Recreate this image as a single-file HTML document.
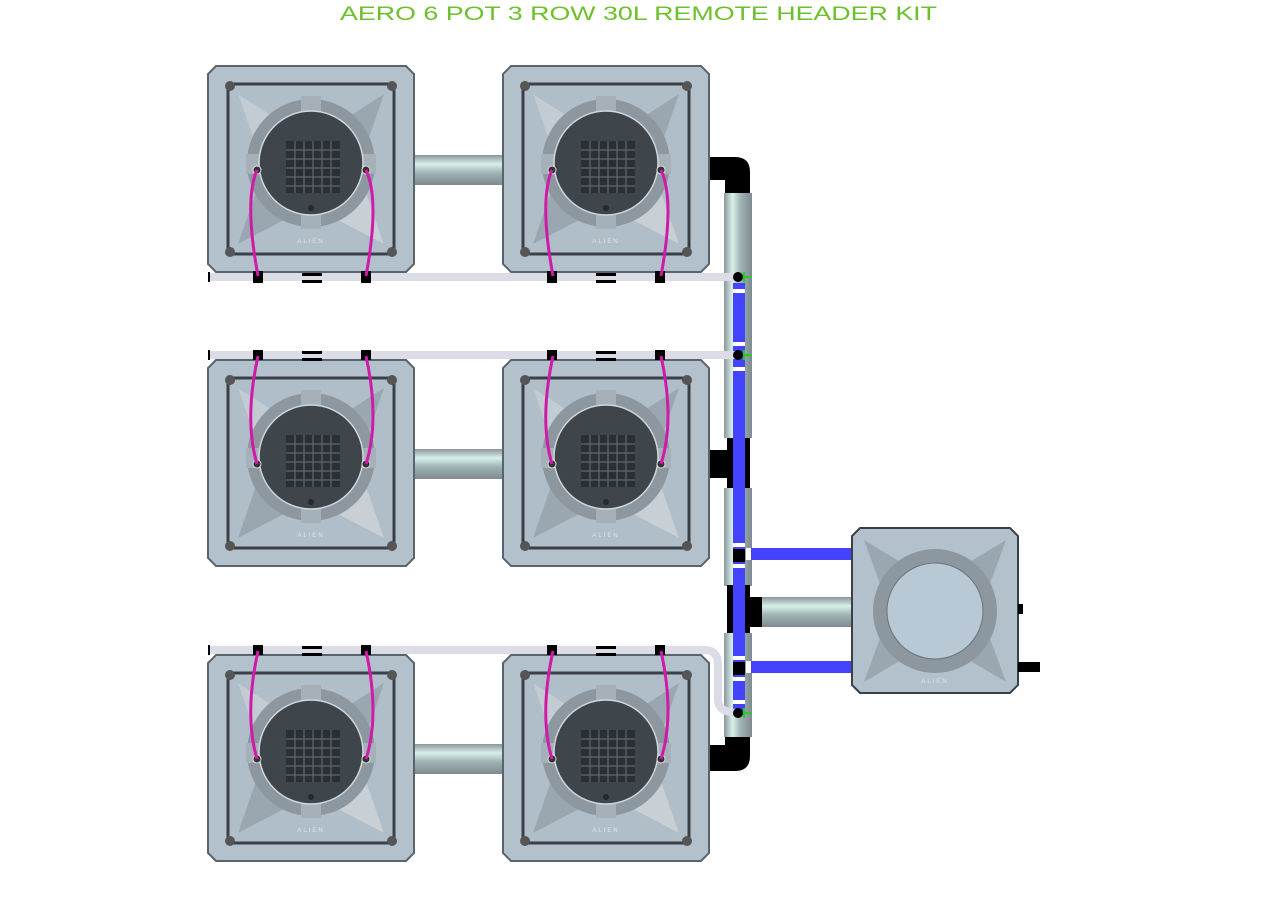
<!DOCTYPE html>
<html><head><meta charset="utf-8"><style>html,body{margin:0;padding:0;background:#fff}svg{display:block}</style></head>
<body>
<svg width="1277" height="906" viewBox="0 0 1277 906" xmlns="http://www.w3.org/2000/svg">
<defs>
<linearGradient id="tubeH" x1="0" y1="0" x2="0" y2="1">
<stop offset="0" stop-color="#8a969c"/><stop offset="0.3" stop-color="#d8f0ea"/><stop offset="0.6" stop-color="#9fb3b3"/><stop offset="1" stop-color="#7e8a90"/></linearGradient>
<linearGradient id="tubeV" x1="0" y1="0" x2="1" y2="0">
<stop offset="0" stop-color="#8a969c"/><stop offset="0.3" stop-color="#d8f0ea"/><stop offset="0.6" stop-color="#9fb3b3"/><stop offset="1" stop-color="#7e8a90"/></linearGradient>
<g id="potbase">
<path d="M8,0 H198 L206,8 V198 L198,206 H8 L0,198 V8 Z" fill="#b3c1cd" stroke="#5a646c" stroke-width="2"/>
<rect x="20" y="18" width="166" height="170" fill="#b0bec9" stroke="#3a4046" stroke-width="3"/>
<path d="M30,28 L103,75 L176,28 L150,103 L176,178 L103,140 L30,178 L56,103 Z" fill="#9aa6b0"/>
<path d="M30,28 L103,75 L56,103 Z" fill="#c3ccd3"/>
<path d="M176,178 L103,140 L150,103 Z" fill="#c8d0d6"/>
<circle cx="103" cy="97" r="64" fill="#8d979f"/>
<rect x="93" y="30" width="20" height="20" fill="#a5b0b8"/>
<rect x="93" y="145" width="20" height="18" fill="#a5b0b8"/>
<rect x="38" y="88" width="24" height="20" fill="#a5b0b8"/>
<rect x="144" y="88" width="24" height="20" fill="#a5b0b8"/>
<circle cx="22" cy="20" r="5" fill="#555"/><circle cx="184" cy="20" r="5" fill="#555"/>
<circle cx="22" cy="186" r="5" fill="#555"/><circle cx="184" cy="186" r="5" fill="#555"/>
</g>
<g id="pot">
<use href="#potbase"/>
<circle cx="103" cy="97" r="52" fill="#3e454b" stroke="#cfd6dc" stroke-width="1.5"/>
<rect x="78" y="75" width="54" height="52" fill="#2a2f33"/>
<path d="M78,84h54M78,93h54M78,102h54M78,111h54M78,120h54M87,75v52M96,75v52M105,75v52M114,75v52M123,75v52" stroke="#5d666d" stroke-width="1.2"/>
<circle cx="103" cy="142" r="3" fill="#262a2e"/>
<circle cx="49" cy="104" r="4" fill="#333" stroke="#ddd" stroke-width="1"/>
<circle cx="158" cy="104" r="4" fill="#333" stroke="#ddd" stroke-width="1"/>
<text x="103" y="177" font-family="Liberation Sans,sans-serif" font-size="6" fill="#e0e6ea" text-anchor="middle" letter-spacing="2">ALIEN</text>
</g>
</defs>

<text x="340" y="20" textLength="597" lengthAdjust="spacingAndGlyphs" font-family="Liberation Sans,sans-serif" font-size="19" fill="#6cc02a">AERO 6 POT 3 ROW 30L REMOTE HEADER KIT</text>

<!-- horizontal tubes between pots -->
<rect x="412" y="155" width="93" height="30" fill="url(#tubeH)"/>
<rect x="412" y="449" width="93" height="30" fill="url(#tubeH)"/>
<rect x="412" y="744" width="93" height="30" fill="url(#tubeH)"/>

<!-- elbows and manifold -->
<path d="M710,157 H735 Q750,157 750,172 V195 H725 V180 H710 Z" fill="#000"/>
<path d="M710,771 H735 Q750,771 750,756 V735 H725 V745 H710 Z" fill="#000"/>
<rect x="710" y="450" width="20" height="28" fill="#000"/>
<rect x="724" y="193" width="28" height="245" fill="url(#tubeV)"/>
<rect x="727" y="438" width="23" height="52" fill="#000"/>
<rect x="724" y="488" width="28" height="98" fill="url(#tubeV)"/>
<rect x="727" y="585" width="23" height="50" fill="#000"/>
<rect x="740" y="597" width="24" height="30" fill="#000"/>
<rect x="724" y="633" width="28" height="104" fill="url(#tubeV)"/>
<rect x="733" y="283" width="12" height="430" fill="#4444ff"/>
<!-- white clips -->
<g fill="#fff">
<rect x="733" y="289" width="12" height="4"/><rect x="733" y="342" width="12" height="4"/><rect x="733" y="367" width="12" height="4"/>
<rect x="733" y="543" width="12" height="4"/><rect x="733" y="564" width="12" height="4"/>
<rect x="733" y="656" width="12" height="4"/><rect x="733" y="677" width="12" height="4"/><rect x="733" y="700" width="12" height="4"/>
</g>
<rect x="733" y="549" width="12" height="13" fill="#000"/>
<rect x="733" y="662" width="12" height="13" fill="#000"/>
<!-- blue lines to tank -->
<rect x="746" y="548" width="108" height="12" fill="#4444ff"/>
<rect x="746" y="661" width="108" height="12" fill="#4444ff"/>
<rect x="746" y="548" width="5" height="12" fill="#fff"/>
<rect x="746" y="661" width="5" height="12" fill="#fff"/>
<rect x="762" y="597" width="92" height="30" fill="url(#tubeH)"/>

<!-- pots -->
<use href="#pot" x="208" y="66"/><use href="#pot" x="503" y="66"/>
<use href="#pot" x="208" y="360"/><use href="#pot" x="503" y="360"/>
<use href="#pot" x="208" y="655"/><use href="#pot" x="503" y="655"/>

<!-- remote tank -->
<g transform="translate(852,528)">
<path d="M8,0 H158 L166,8 V157 L158,165 H8 L0,157 V8 Z" fill="#b3c1cd" stroke="#3a4046" stroke-width="2"/>
<path d="M12,12 L83,55 L154,12 L128,83 L154,154 L83,112 L12,154 L38,83 Z" fill="#9aa6b0"/>
<circle cx="83" cy="83" r="62" fill="#8d979f"/>
<circle cx="83" cy="83" r="48" fill="#b8c8d4" stroke="#6a747c" stroke-width="1"/>
<text x="83" y="155" font-family="Liberation Sans,sans-serif" font-size="6" fill="#e0e6ea" text-anchor="middle" letter-spacing="2">ALIEN</text>
</g>
<rect x="1018" y="604" width="5" height="10" fill="#000"/>
<rect x="1018" y="662" width="22" height="10" fill="#000"/>

<!-- drip lines -->
<g stroke="#dcdce6" stroke-width="8" fill="none">
<path d="M208,277 H740"/>
<path d="M208,355 H740"/>
<path d="M208,650 H705 Q718,650 718,665 V700 Q718,713 740,713"/>
</g>
<g fill="#000">
<rect x="208" y="272" width="2" height="10"/><rect x="208" y="350" width="2" height="10"/><rect x="208" y="645" width="2" height="10"/>
<circle cx="738" cy="277" r="5"/><circle cx="738" cy="355" r="5"/><circle cx="738" cy="713" r="5"/>
</g>
<g stroke="#22cc22" stroke-width="2">
<path d="M744,277 H752 M744,272 V282"/><path d="M744,355 H752 M744,350 V360"/><path d="M744,713 H752 M744,708 V718"/>
</g>
<g fill="#000">
<rect x="253" y="271" width="10" height="12"/><rect x="361" y="271" width="10" height="12"/><rect x="547" y="271" width="10" height="12"/><rect x="655" y="271" width="10" height="12"/>
<rect x="253" y="350" width="10" height="10"/><rect x="361" y="350" width="10" height="10"/><rect x="547" y="350" width="10" height="10"/><rect x="655" y="350" width="10" height="10"/>
<rect x="253" y="645" width="10" height="10"/><rect x="361" y="645" width="10" height="10"/><rect x="547" y="645" width="10" height="10"/><rect x="655" y="645" width="10" height="10"/>
<rect x="302" y="273" width="20" height="3"/><rect x="302" y="280" width="20" height="3"/>
<rect x="596" y="273" width="20" height="3"/><rect x="596" y="280" width="20" height="3"/>
<rect x="302" y="351" width="20" height="3"/><rect x="302" y="358" width="20" height="3"/>
<rect x="596" y="351" width="20" height="3"/><rect x="596" y="358" width="20" height="3"/>
<rect x="302" y="646" width="20" height="3"/><rect x="302" y="653" width="20" height="3"/>
<rect x="596" y="646" width="20" height="3"/><rect x="596" y="653" width="20" height="3"/>
</g>

<!-- magenta tubes -->
<g stroke="#d01aa8" stroke-width="3" fill="none">
<path d="M257,170 Q244,200 258,276"/><path d="M366,170 Q380,200 366,276"/>
<path d="M552,170 Q539,200 553,276"/><path d="M661,170 Q675,200 661,276"/>
<path d="M258,356 Q244,420 257,464"/><path d="M366,356 Q380,420 366,464"/>
<path d="M553,356 Q539,420 552,464"/><path d="M661,356 Q675,420 661,464"/>
<path d="M258,651 Q244,715 257,759"/><path d="M366,651 Q380,715 366,759"/>
<path d="M553,651 Q539,715 552,759"/><path d="M661,651 Q675,715 661,759"/>
</g>
</svg>
</body></html>
